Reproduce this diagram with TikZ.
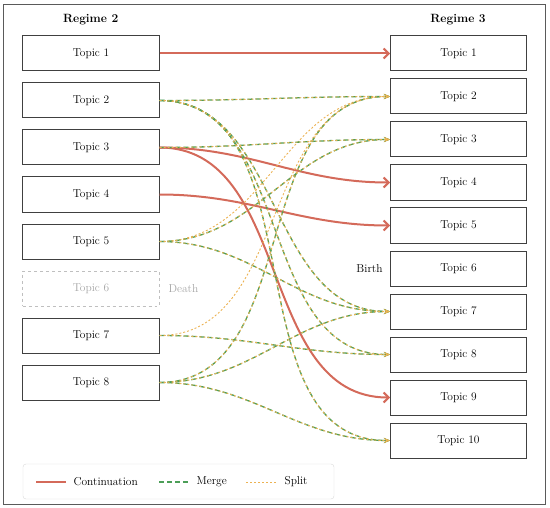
\documentclass[tikz,border=0pt]{standalone}
\usetikzlibrary{arrows.meta}

\definecolor{contred}{RGB}{212,106,90}
\definecolor{mergegreen}{RGB}{76,158,88}
\definecolor{splitorange}{RGB}{236,178,82}
\definecolor{framegray}{RGB}{90,90,90}

\begin{document}
\begin{tikzpicture}[x=1bp,y=-1bp,font=\fontsize{11.5}{13}\selectfont,
  topic/.style={draw=black!75,line width=1bp,minimum width=136bp,minimum height=35bp,inner sep=0pt},
  gone/.style={topic,draw=black!25,dashed,text=black!35},
  cont/.style={contred,line width=2bp,-{Straight Barb[length=5bp,width=10bp]}},
  merge/.style={mergegreen,line width=1.3bp,dash pattern=on 5bp off 3bp,-{Stealth[length=6bp,width=5bp]}},
  split/.style={splitorange,line width=0.9bp,dash pattern=on 2bp off 2bp,-{Stealth[length=6bp,width=5bp]}}]
  \useasboundingbox (0,0) rectangle (550,508);
  \draw[framegray,line width=1bp] (3,5) rectangle (545,504);

  % regimes
  \node[font=\large\bfseries] (reg2) at (90.7,20) {Regime 2};
  \node[font=\large\bfseries] (reg3) at (458,20) {Regime 3};

  \foreach \i in {1,2,3,4,5,7,8}
    \node[topic] (l\i) at (91,{6.5+47*\i}) {Topic \i};
  \node[gone] (l6) at (91,288.5) {Topic 6};
  \node[anchor=west,text=black!35] (death) at (165,288.5) {Death};

  \foreach \i in {1,...,10}
    \node[topic] (r\i) at (458.5,{10.5+43*\i}) {Topic \i};
  \node[anchor=east] (birth) at (386,268.5) {Birth};

  % continuation
  \foreach \a/\b in {1/1,3/4,4/5,3/9}
    \draw[cont] (l\a.east) to[out=0,in=180] (r\b.west);

  % split only
  \foreach \a/\b in {5/2,7/2}
    \draw[split] (l\a.east) to[out=0,in=180] (r\b.west);

  % merge + split
  \foreach \a/\b in {2/2,2/7,2/8,2/10,3/3,5/3,5/7,7/8,8/2,8/7,8/10} {
    \draw[merge] (l\a.east) to[out=0,in=180] (r\b.west);
    \draw[split] (l\a.east) to[out=0,in=180] (r\b.west);
  }

  % legend
  \draw[black!15,rounded corners=3bp] (23,464) rectangle (334,499);
  \draw[contred,line width=2bp] (36,482) -- (66,482);
  \node[anchor=west] (lcont) at (70,482) {Continuation};
  \draw[mergegreen,line width=1.3bp,dash pattern=on 5bp off 3bp] (159,482) -- (190,482);
  \node[anchor=west] (lmerge) at (193,482) {Merge};
  \draw[splitorange,line width=1bp,dash pattern=on 2bp off 2bp] (246,482) -- (277,482);
  \node[anchor=west] (lsplit) at (281,482) {Split};
\end{tikzpicture}
\end{document}
